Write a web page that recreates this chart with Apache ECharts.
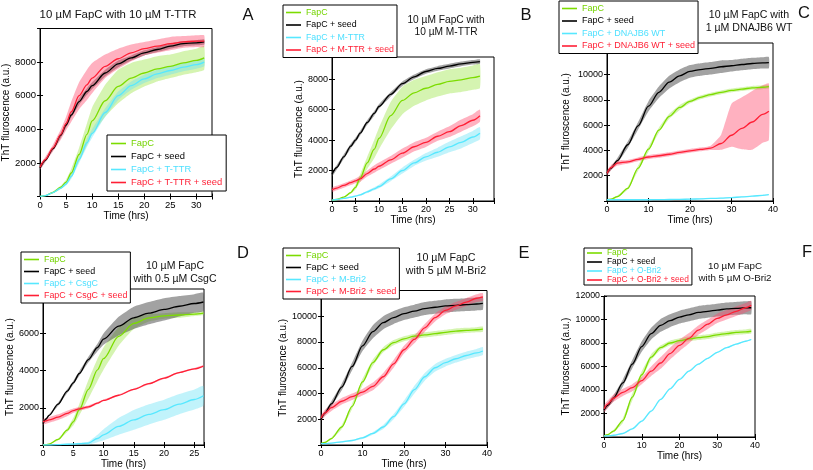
<!DOCTYPE html>
<html><head><meta charset="utf-8">
<script src="https://cdn.jsdelivr.net/npm/echarts@6/dist/echarts.min.js"></script>
<style>html,body{margin:0;padding:0;background:#fff}#c{width:813px;height:470px}</style>
</head><body><div id="c"></div>
<script>
// ---------------- Panel A ----------------
const A_title = '10 µM FapC with 10 µM T-TTR';
const A_names = ['FapC', 'FapC + seed', 'FapC + T-TTR', 'FapC + T-TTR + seed'];
const A_time = [0, 1, 2.5, 4, 5, 6, 7.5, 9, 10, 12.5, 15, 17.5, 20, 22.5, 25, 27.5, 30, 31.5];
const A_fapc = [0, 50, 250, 550, 850, 1400, 2500, 3700, 4500, 5700, 6550, 7050, 7350, 7600, 7750, 7950, 8100, 8250];
const A_fapc_err = [30, 30, 50, 100, 150, 250, 400, 650, 800, 950, 1000, 900, 800, 750, 700, 700, 700, 700];
const A_seed = [1700, 2150, 2850, 3650, 4250, 4850, 5650, 6250, 6600, 7350, 7900, 8250, 8550, 8750, 8950, 9100, 9150, 9200];
const A_seed_err = [100, 100, 100, 150, 150, 150, 200, 200, 200, 200, 200, 150, 150, 150, 150, 150, 150, 150];
const A_ttr = [0, 50, 230, 500, 750, 1200, 2200, 3200, 3750, 5000, 6000, 6600, 7000, 7300, 7500, 7700, 7850, 8000];
const A_ttr_err = [20, 20, 40, 60, 100, 150, 200, 250, 250, 250, 250, 250, 250, 250, 250, 250, 250, 250];
const A_ttr_seed = [1750, 2200, 2900, 3700, 4350, 5050, 6000, 6650, 7050, 7750, 8200, 8550, 8800, 8950, 9100, 9200, 9250, 9250];
const A_ttr_seed_err = [150, 150, 200, 300, 400, 600, 800, 900, 900, 700, 600, 500, 400, 400, 400, 350, 350, 350];
const A_xticks = [0, 5, 10, 15, 20, 25, 30];
const A_yticks = [2000, 4000, 6000, 8000];

// ---------------- Panel B ----------------
const B_title = '10 µM FapC with\n10 µM M-TTR';
const B_names = ['FapC', 'FapC + seed', 'FapC + M-TTR', 'FapC + M-TTR + seed'];
const B_time = [0, 1, 2.5, 4, 5, 6, 7.5, 9, 10, 12.5, 15, 17.5, 20, 22.5, 25, 27.5, 30, 31.5];
const B_fapc = [50, 100, 250, 550, 900, 1500, 2500, 3400, 4100, 5600, 6600, 7100, 7400, 7650, 7850, 7950, 8100, 8200];
const B_fapc_err = [20, 20, 30, 80, 150, 250, 400, 600, 700, 900, 900, 850, 800, 800, 800, 800, 800, 800];
const B_seed = [1750, 2200, 2900, 3600, 4000, 4450, 5150, 5750, 6200, 7000, 7700, 8150, 8500, 8700, 8850, 9000, 9100, 9150];
const B_seed_err = [150, 150, 150, 150, 150, 150, 150, 150, 150, 150, 150, 150, 150, 150, 150, 150, 150, 150];
const B_mttr = [50, 100, 170, 250, 320, 400, 600, 800, 950, 1450, 2000, 2500, 2900, 3200, 3550, 3850, 4200, 4450];
const B_mttr_err = [20, 20, 30, 40, 50, 60, 80, 100, 120, 150, 200, 200, 250, 300, 350, 400, 400, 400];
const B_mttr_seed = [740, 850, 1020, 1200, 1320, 1450, 1800, 2100, 2280, 2700, 3140, 3560, 3850, 4250, 4550, 4950, 5300, 5600];
const B_mttr_seed_err = [150, 150, 150, 150, 150, 200, 200, 250, 250, 250, 300, 300, 300, 300, 350, 400, 400, 400];
const B_xticks = [0, 5, 10, 15, 20, 25, 30];
const B_yticks = [2000, 4000, 6000, 8000];

// ---------------- Panel C ----------------
const C_title = '10 µM FapC with\n1 µM DNAJB6 WT';
const C_names = ['FapC', 'FapC + seed', 'FapC + DNAJB6 WT', 'FapC + DNAJB6 WT + seed'];
const C_time = [0, 1, 2.5, 5, 7.5, 10, 12.5, 15, 17.5, 20, 22.5, 25, 27.5, 30, 32.5, 35, 37.5, 39];
const C_fapc = [100, 150, 350, 1000, 2600, 4100, 5600, 6700, 7400, 7880, 8200, 8420, 8600, 8750, 8850, 8950, 9000, 9050];
const C_fapc_err = [50, 50, 80, 100, 200, 200, 200, 200, 200, 150, 150, 150, 150, 150, 150, 150, 150, 150];
const C_seed = [2200, 2600, 3200, 4450, 5950, 7500, 8600, 9400, 9900, 10250, 10400, 10500, 10620, 10700, 10800, 10880, 10930, 10950];
const C_seed_err = [150, 150, 200, 250, 300, 400, 450, 500, 500, 500, 500, 500, 500, 450, 450, 450, 450, 450];
const C_dnajb6 = [100, 100, 100, 100, 100, 100, 110, 120, 130, 150, 170, 200, 230, 270, 320, 380, 450, 500];
const C_dnajb6_err = [30, 30, 30, 30, 30, 30, 30, 30, 30, 30, 30, 30, 30, 30, 30, 30, 30, 30];
const C_dnajb6_seed = [2200, 2650, 3000, 3100, 3300, 3480, 3580, 3700, 3850, 3970, 4080, 4180, 4550, 5200, 5750, 6250, 6850, 7100];
const C_dnajb6_seed_errUp = [200, 200, 200, 150, 150, 150, 150, 150, 150, 150, 150, 200, 700, 2500, 2450, 2450, 2300, 2200];
const C_dnajb6_seed_errDn = [200, 200, 200, 150, 150, 150, 150, 150, 150, 150, 150, 150, 500, 900, 1650, 2200, 2250, 2300];
const C_xticks = [0, 10, 20, 30, 40];
const C_yticks = [2000, 4000, 6000, 8000, 10000];

// ---------------- Panel D ----------------
const D_title = '10 µM FapC\nwith 0.5 µM CsgC';
const D_names = ['FapC', 'FapC + seed', 'FapC + CsgC', 'FapC + CsgC + seed'];
const D_time = [0, 0.5, 1, 2.5, 4, 5, 6, 7.5, 9, 10, 12.5, 15, 17.5, 20, 22.5, 25, 26.5];
const D_fapc = [0, 20, 50, 300, 800, 1250, 1900, 3000, 4050, 4650, 5850, 6550, 6850, 6950, 7000, 7050, 7100];
const D_fapc_err = [20, 20, 30, 50, 100, 200, 300, 500, 600, 600, 500, 300, 200, 150, 150, 100, 100];
const D_seed = [1150, 1400, 1600, 2200, 2900, 3350, 3850, 4600, 5250, 5700, 6400, 6850, 7100, 7300, 7470, 7620, 7700];
const D_seed_err = [50, 50, 50, 80, 100, 100, 120, 150, 200, 300, 500, 600, 600, 600, 550, 500, 500];
const D_csgc = [0, 0, 0, 20, 40, 50, 70, 100, 350, 550, 1000, 1350, 1650, 1900, 2200, 2450, 2650];
const D_csgc_err = [0, 0, 0, 20, 30, 40, 50, 80, 200, 300, 450, 530, 540, 540, 540, 540, 540];
const D_csgc_seed = [1250, 1300, 1350, 1500, 1700, 1850, 1950, 2050, 2250, 2400, 2680, 3000, 3300, 3600, 3900, 4100, 4250];
const D_csgc_seed_err = [150, 150, 150, 150, 150, 120, 100, 80, 60, 50, 40, 40, 40, 40, 40, 40, 40];
const D_xticks = [0, 5, 10, 15, 20, 25];
const D_yticks = [2000, 4000, 6000];

// ---------------- Panel E ----------------
const E_title = '10 µM FapC\nwith 5 µM M-Bri2';
const E_names = ['FapC', 'FapC + seed', 'FapC + M-Bri2', 'FapC + M-Bri2 + seed'];
const E_time = [0, 1, 2.5, 5, 7.5, 10, 12.5, 15, 17.5, 20, 22.5, 25, 27.5, 30, 32.5, 35, 37.5, 39];
const E_fapc = [100, 200, 500, 1400, 3000, 4900, 6400, 7400, 7950, 8250, 8450, 8550, 8650, 8750, 8850, 8900, 8950, 9000];
const E_fapc_err = [50, 50, 80, 150, 200, 250, 250, 200, 200, 200, 200, 200, 200, 200, 200, 200, 200, 200];
const E_seed = [2000, 2500, 3200, 4500, 6100, 7700, 8800, 9500, 9900, 10200, 10400, 10600, 10700, 10800, 10850, 10900, 10950, 11000];
const E_seed_err = [100, 150, 200, 250, 300, 400, 500, 500, 500, 500, 500, 500, 500, 500, 500, 500, 500, 500];
const E_mbri2 = [100, 100, 150, 250, 350, 550, 900, 1400, 2200, 3200, 4300, 5300, 6000, 6400, 6700, 6950, 7150, 7300];
const E_mbri2_err = [30, 30, 30, 50, 50, 80, 100, 150, 200, 250, 300, 300, 300, 300, 300, 300, 300, 300];
const E_mbri2_seed = [2100, 2500, 2900, 3400, 3750, 4100, 4550, 5300, 6300, 7400, 8200, 9100, 9900, 10450, 10800, 11100, 11400, 11500];
const E_mbri2_seed_err = [200, 250, 250, 250, 250, 250, 300, 300, 300, 300, 300, 300, 300, 300, 300, 300, 300, 300];
const E_xticks = [0, 10, 20, 30, 40];
const E_yticks = [2000, 4000, 6000, 8000, 10000];

// ---------------- Panel F ----------------
const F_title = '10 µM FapC\nwith 5 µM O-Bri2';
const F_names = ['FapC', 'FapC + seed', 'FapC + O-Bri2', 'FapC + O-Bri2 + seed'];
const F_time = [0, 1, 2.5, 5, 7.5, 10, 12.5, 15, 17.5, 20, 22.5, 25, 27.5, 30, 32.5, 35, 37.5, 39];
const F_fapc = [100, 200, 500, 1400, 3400, 5300, 6800, 7600, 8000, 8200, 8350, 8450, 8550, 8700, 8800, 8900, 8950, 9000];
const F_fapc_err = [50, 50, 100, 200, 300, 300, 250, 200, 200, 200, 200, 200, 200, 200, 200, 200, 200, 200];
const F_seed = [2300, 2700, 3300, 4600, 6200, 7700, 8800, 9500, 9900, 10200, 10400, 10600, 10700, 10800, 10900, 10950, 11000, 11000];
const F_seed_err = [150, 200, 250, 300, 350, 450, 500, 550, 550, 550, 550, 550, 550, 550, 550, 550, 550, 550];
const F_obri2 = [100, 100, 150, 300, 700, 1350, 2200, 3200, 4100, 4900, 5600, 6200, 6700, 7200, 7600, 7900, 8150, 8300];
const F_obri2_err = [50, 50, 50, 50, 50, 50, 50, 50, 50, 50, 50, 50, 50, 50, 50, 50, 50, 50];
const F_obri2_seed = [2400, 2800, 3300, 3800, 4200, 4800, 5600, 6300, 7100, 7800, 8400, 9100, 9600, 10100, 10400, 10700, 11000, 11200];
const F_obri2_seed_err = [300, 300, 300, 300, 300, 300, 400, 500, 500, 500, 450, 400, 400, 400, 400, 400, 400, 400];
const F_xticks = [0, 10, 20, 30, 40];
const F_yticks = [2000, 4000, 6000, 8000, 10000, 12000];

// ---------------- styling / layout ----------------
const FONT = "'Liberation Sans', Arial, sans-serif";
const LINE_COLORS = ['#7cdc00', '#000000', '#57e8ff', '#ff1f35'];
const TEXT_COLORS = ['#74d400', '#000000', '#4fe0ff', '#ff1f35'];
const BAND_COLORS = ['rgba(150,228,60,0.40)', 'rgba(70,70,70,0.50)', 'rgba(100,225,245,0.40)', 'rgba(255,70,105,0.42)'];
const LETTERS = ['A', 'B', 'C', 'D', 'E', 'F'];

const panels = [
  {title: A_title, names: A_names, time: A_time,
   vals: [A_fapc, A_seed, A_ttr, A_ttr_seed], up: [A_fapc_err, A_seed_err, A_ttr_err, A_ttr_seed_err], dn: [A_fapc_err, A_seed_err, A_ttr_err, A_ttr_seed_err],
   xticks: A_xticks, yticks: A_yticks,
   grid: {left: 36, top: 28.5, width: 176, height: 168}, xMax: 33, xInt: 5, yMax: 10000,
   legend: {left: 107, top: 135, gap: 4, pad: [4, 4], fs: 9.4}, titlePos: [118, 15], titleFs: 11.4, letterPos: [248, 15],
   yGap: 26, xGap: 14, fs: 9.5},
  {title: B_title, names: B_names, time: B_time,
   vals: [B_fapc, B_seed, B_mttr, B_mttr_seed], up: [B_fapc_err, B_seed_err, B_mttr_err, B_mttr_seed_err], dn: [B_fapc_err, B_seed_err, B_mttr_err, B_mttr_seed_err],
   xticks: B_xticks, yticks: B_yticks,
   grid: {left: 332, top: 57, width: 162, height: 144}, xMax: 34.5, xInt: 5, yMax: 9450,
   legend: {left: 283, top: 5, gap: 3.5, pad: [3, 3], fs: 8.8}, titlePos: [446, 26], titleFs: 10.2, letterPos: [526, 15],
   yGap: 26, xGap: 13, fs: 9},
  {title: C_title, names: C_names, time: C_time,
   vals: [C_fapc, C_seed, C_dnajb6, C_dnajb6_seed], up: [C_fapc_err, C_seed_err, C_dnajb6_err, C_dnajb6_seed_errUp], dn: [C_fapc_err, C_seed_err, C_dnajb6_err, C_dnajb6_seed_errDn],
   xticks: C_xticks, yticks: C_yticks,
   grid: {left: 607, top: 43, width: 166, height: 158}, xMax: 40, xInt: 10, yMax: 12500,
   legend: {left: 559, top: 1, gap: 3.5, pad: [3, 3], fs: 9.0}, titlePos: [749, 21.5], titleFs: 10.6, letterPos: [804, 13],
   yGap: 36, xGap: 13, fs: 9},
  {title: D_title, names: D_names, time: D_time,
   vals: [D_fapc, D_seed, D_csgc, D_csgc_seed], up: [D_fapc_err, D_seed_err, D_csgc_err, D_csgc_seed_err], dn: [D_fapc_err, D_seed_err, D_csgc_err, D_csgc_seed_err],
   xticks: D_xticks, yticks: D_yticks,
   grid: {left: 43, top: 289, width: 161, height: 156}, xMax: 26.6, xInt: 5, yMax: 8400,
   legend: {left: 21, top: 252, gap: 3, pad: [3, 3], fs: 8.9}, titlePos: [175, 272.5], titleFs: 10.5, letterPos: [243, 253],
   yGap: 26, xGap: 12, fs: 9},
  {title: E_title, names: E_names, time: E_time,
   vals: [E_fapc, E_seed, E_mbri2, E_mbri2_seed], up: [E_fapc_err, E_seed_err, E_mbri2_err, E_mbri2_seed_err], dn: [E_fapc_err, E_seed_err, E_mbri2_err, E_mbri2_seed_err],
   xticks: E_xticks, yticks: E_yticks,
   grid: {left: 321, top: 290.5, width: 166, height: 154.5}, xMax: 40, xInt: 10, yMax: 12000,
   legend: {left: 283, top: 248, gap: 3, pad: [3, 3], fs: 9.2}, titlePos: [446, 265], titleFs: 10.7, letterPos: [524, 253],
   yGap: 28, xGap: 13, fs: 9},
  {title: F_title, names: F_names, time: F_time,
   vals: [F_fapc, F_seed, F_obri2, F_obri2_seed], up: [F_fapc_err, F_seed_err, F_obri2_err, F_obri2_seed_err], dn: [F_fapc_err, F_seed_err, F_obri2_err, F_obri2_seed_err],
   xticks: F_xticks, yticks: F_yticks,
   grid: {left: 604, top: 296, width: 151, height: 141}, xMax: 40, xInt: 10, yMax: 12000,
   legend: {left: 584, top: 248, gap: 1, pad: [1, 3], fs: 8.4}, titlePos: [735, 272.5], titleFs: 9.8, letterPos: [807, 252],
   yGap: 27, xGap: 12, fs: 8.8}
];

const grids = [], xAxes = [], yAxes = [], series = [], legends = [], graphics = [];

function bandRenderer(color, n) {
  return function (params, api) {
    if (params.dataIndexInside !== 0) return null;
    const top = [], bot = [];
    for (let j = 0; j < n; j++) {
      top.push(api.coord([api.value(0, j), api.value(2, j)]));
      bot.push(api.coord([api.value(0, j), api.value(1, j)]));
    }
    return {
      type: 'polygon', silent: true,
      shape: {points: top.concat(bot.reverse()), smooth: 0.15},
      style: {fill: color, stroke: null}
    };
  };
}

panels.forEach((p, pi) => {
  grids.push(Object.assign({show: true, borderColor: '#000', borderWidth: 1, backgroundColor: '#fff', containLabel: false}, p.grid));
  const tickStyle = {inside: true, length: 3, lineStyle: {color: '#000', width: 1}};
  xAxes.push({
    type: 'value', gridIndex: pi, min: 0, max: p.xMax, interval: p.xInt,
    axisLine: {show: true, onZero: false, lineStyle: {color: '#000'}},
    axisTick: tickStyle, splitLine: {show: false},
    axisLabel: {fontSize: p.fs, color: '#000', fontFamily: FONT, margin: 4,
      formatter: v => (p.xticks.indexOf(v) >= 0 ? String(v) : '')},
    name: 'Time (hrs)', nameLocation: 'middle', nameGap: p.xGap,
    nameTextStyle: {fontSize: 10, color: '#000', fontFamily: FONT}
  });
  yAxes.push({
    type: 'value', gridIndex: pi, min: 0, max: p.yMax, interval: 2000,
    axisLine: {show: true, onZero: false, lineStyle: {color: '#000'}},
    axisTick: tickStyle, splitLine: {show: false},
    axisLabel: {fontSize: p.fs, color: '#000', fontFamily: FONT, margin: 4,
      formatter: v => (p.yticks.indexOf(v) >= 0 ? String(v) : '')},
    name: 'ThT fluroscence (a.u.)', nameLocation: 'middle', nameGap: p.yGap,
    nameTextStyle: {fontSize: 10, color: '#000', fontFamily: FONT}
  });

  // error bands (custom polygons through the axis scales), beneath the lines
  p.vals.forEach((vals, si) => {
    const up = p.up[si], dn = p.dn[si];
    series.push({
      type: 'custom', name: 'band_' + pi + '_' + si, xAxisIndex: pi, yAxisIndex: pi,
      data: p.time.map((t, i) => [t, vals[i] - dn[i], vals[i] + up[i]]),
      encode: {x: 0, y: [1, 2]},
      renderItem: bandRenderer(BAND_COLORS[si], p.time.length),
      clip: true, silent: true, z: 1, animation: false
    });
  });
  // main lines
  p.vals.forEach((vals, si) => {
    series.push({
      type: 'line', name: p.names[si], xAxisIndex: pi, yAxisIndex: pi,
      data: p.time.map((t, i) => [t, vals[i]]), symbol: 'none', showSymbol: false,
      smooth: 0.3, smoothMonotone: 'x',
      lineStyle: {color: LINE_COLORS[si], width: 1.3}, itemStyle: {color: LINE_COLORS[si]},
      z: 3, animation: false
    });
  });

  legends.push({
    left: p.legend.left, top: p.legend.top, orient: 'vertical', selectedMode: false,
    backgroundColor: '#fff', borderColor: '#000', borderWidth: 1, borderRadius: 0,
    padding: p.legend.pad, itemGap: p.legend.gap, itemWidth: 15, itemHeight: 1.6, icon: 'rect',
    textStyle: {fontSize: p.legend.fs, fontFamily: FONT},
    data: p.names.map((n, i) => ({name: n, icon: 'rect', itemStyle: {color: LINE_COLORS[i]}, textStyle: {color: TEXT_COLORS[i]}})),
    z: 10
  });

  graphics.push({
    type: 'text', x: p.titlePos[0], y: p.titlePos[1], z: 20,
    style: {text: p.title, fill: '#111', align: 'center', verticalAlign: 'middle',
      font: p.titleFs + 'px ' + FONT, lineHeight: Math.round(p.titleFs * 1.2)}
  });
  graphics.push({
    type: 'text', x: p.letterPos[0], y: p.letterPos[1], z: 20,
    style: {text: LETTERS[pi], fill: '#111', align: 'center', verticalAlign: 'middle', font: '16.5px ' + FONT}
  });
});

// mirrored ticks on the top and right edges (MATLAB box style)
panels.forEach((p, pi) => {
  xAxes.push({type: 'value', gridIndex: pi, position: 'top', min: 0, max: p.xMax, interval: p.xInt,
    axisLine: {show: false}, axisLabel: {show: false}, splitLine: {show: false},
    axisTick: {inside: true, length: 3, lineStyle: {color: '#000'}}});
  yAxes.push({type: 'value', gridIndex: pi, position: 'right', min: 0, max: p.yMax, interval: 2000,
    axisLine: {show: false}, axisLabel: {show: false}, splitLine: {show: false},
    axisTick: {inside: true, length: 3, lineStyle: {color: '#000'}}});
});

const chart = echarts.init(document.getElementById('c'), null, {renderer: 'canvas'});
chart.setOption({
  backgroundColor: '#fff',
  animation: false,
  textStyle: {fontFamily: FONT},
  grid: grids, xAxis: xAxes, yAxis: yAxes, series: series, legend: legends,
  graphic: graphics
});
</script></body></html>
